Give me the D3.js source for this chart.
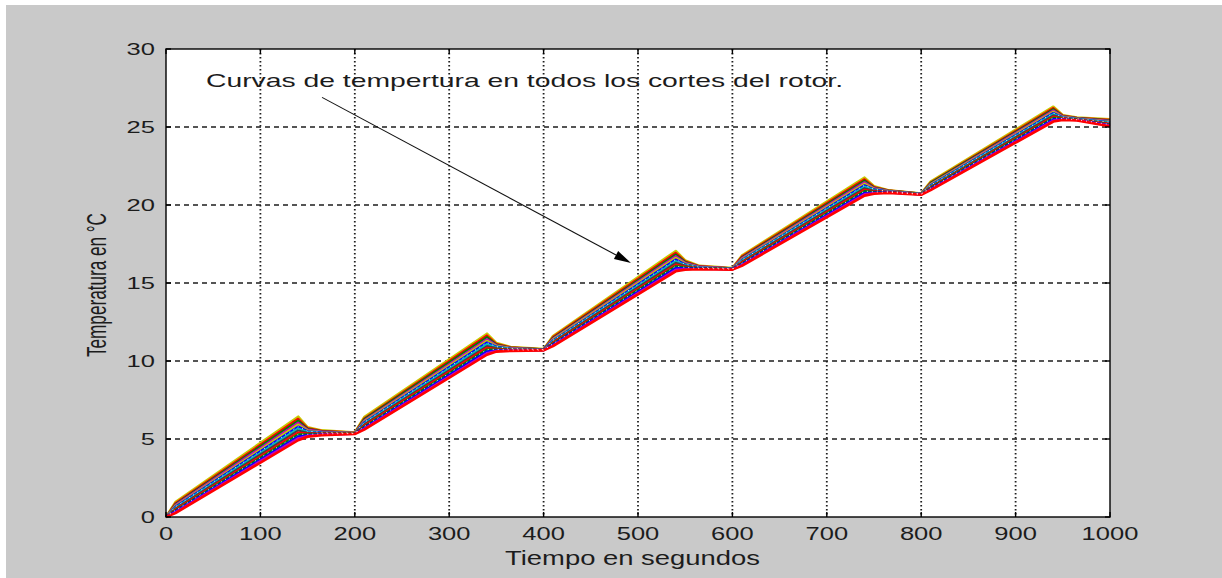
<!DOCTYPE html>
<html>
<head>
<meta charset="utf-8">
<script src="https://cdn.jsdelivr.net/npm/d3@7"></script>
<style>
  html, body { margin: 0; padding: 0; background: #ffffff; }
  svg { display: block; }
  text { font-family: "Liberation Sans", Arial, sans-serif; fill: #1c1c1c; }
</style>
</head>
<body>
<svg id="fig" width="1222" height="578"></svg>
<script>
// Sample times (s) shared by every rotor-section curve
const tiempos = [0, 10, 140, 150, 165, 200, 210, 340, 350, 365, 400, 410, 540, 550, 565,
                 600, 610, 740, 750, 765, 800, 810, 940, 950, 965, 1000];

// Temperature (°C) of each rotor section at the sample times
const corte01 = [0, 0.95, 6.43, 5.75, 5.55, 5.42, 6.40, 11.75, 11.15, 10.90, 10.76, 11.60, 17.05, 16.45, 16.10, 15.96, 16.75, 21.75, 21.20, 20.95, 20.74, 21.50, 26.30, 25.75, 25.60, 25.50];
const corte02 = [0, 0.89, 6.30, 5.70, 5.53, 5.41, 6.33, 11.64, 11.10, 10.88, 10.75, 11.55, 16.94, 16.40, 16.08, 15.95, 16.70, 21.65, 21.16, 20.94, 20.73, 21.45, 26.22, 25.73, 25.59, 25.46];
const corte03 = [0, 0.83, 6.18, 5.65, 5.50, 5.40, 6.27, 11.53, 11.06, 10.86, 10.75, 11.49, 16.83, 16.35, 16.06, 15.94, 16.64, 21.56, 21.12, 20.92, 20.73, 21.41, 26.14, 25.70, 25.57, 25.43];
const corte04 = [0, 0.78, 6.05, 5.60, 5.48, 5.40, 6.20, 11.41, 11.01, 10.84, 10.74, 11.44, 16.73, 16.30, 16.05, 15.94, 16.59, 21.46, 21.08, 20.91, 20.72, 21.36, 26.06, 25.68, 25.56, 25.39];
const corte05 = [0, 0.72, 5.93, 5.55, 5.45, 5.39, 6.13, 11.30, 10.97, 10.82, 10.73, 11.38, 16.62, 16.25, 16.03, 15.93, 16.53, 21.37, 21.04, 20.89, 20.71, 21.32, 25.98, 25.65, 25.54, 25.35];
const corte06 = [0, 0.66, 5.80, 5.50, 5.43, 5.38, 6.07, 11.19, 10.92, 10.80, 10.73, 11.33, 16.51, 16.20, 16.01, 15.92, 16.48, 21.27, 21.00, 20.88, 20.71, 21.27, 25.90, 25.63, 25.53, 25.31];
const corte07 = [0, 0.60, 5.68, 5.45, 5.40, 5.37, 6.00, 11.08, 10.88, 10.78, 10.72, 11.28, 16.40, 16.15, 15.99, 15.91, 16.43, 21.18, 20.96, 20.87, 20.70, 21.23, 25.83, 25.60, 25.51, 25.28];
const corte08 = [0, 0.54, 5.55, 5.40, 5.38, 5.36, 5.93, 10.96, 10.83, 10.75, 10.71, 11.22, 16.29, 16.10, 15.97, 15.90, 16.37, 21.08, 20.92, 20.85, 20.69, 21.18, 25.75, 25.58, 25.50, 25.24];
const corte09 = [0, 0.48, 5.42, 5.35, 5.35, 5.35, 5.87, 10.85, 10.78, 10.73, 10.71, 11.17, 16.18, 16.05, 15.95, 15.89, 16.32, 20.98, 20.88, 20.84, 20.69, 21.13, 25.67, 25.55, 25.48, 25.20];
const corte10 = [0, 0.43, 5.30, 5.30, 5.33, 5.35, 5.80, 10.74, 10.74, 10.71, 10.70, 11.11, 16.08, 16.00, 15.94, 15.89, 16.26, 20.89, 20.84, 20.82, 20.68, 21.09, 25.59, 25.53, 25.47, 25.16];
const corte11 = [0, 0.37, 5.17, 5.25, 5.30, 5.34, 5.73, 10.63, 10.69, 10.69, 10.69, 11.06, 15.97, 15.95, 15.92, 15.88, 16.21, 20.79, 20.80, 20.81, 20.67, 21.04, 25.51, 25.50, 25.45, 25.13];
const corte12 = [0, 0.31, 5.05, 5.20, 5.28, 5.33, 5.67, 10.51, 10.65, 10.67, 10.69, 11.00, 15.86, 15.90, 15.90, 15.87, 16.15, 20.70, 20.76, 20.79, 20.67, 21.00, 25.43, 25.48, 25.44, 25.09];
const corte13 = [0, 0.25, 4.92, 5.15, 5.25, 5.32, 5.60, 10.40, 10.60, 10.65, 10.68, 10.95, 15.75, 15.85, 15.88, 15.86, 16.10, 20.60, 20.72, 20.78, 20.66, 20.95, 25.35, 25.45, 25.42, 25.05];

const cortes = [corte01, corte02, corte03, corte04, corte05, corte06, corte07,
                corte08, corte09, corte10, corte11, corte12, corte13];

// Line colours (classic plot colour order)
const coloresCorte = ["#c8c800", "#ff0000", "#008000", "#bf00bf", "#c8c800", "#0000ff", "#00bfbf",
                      "#404040", "#ff0000", "#008000", "#0000ff", "#bf00bf", "#ff0000"];

// Axis ticks
const xTicks = [0, 100, 200, 300, 400, 500, 600, 700, 800, 900, 1000];
const yTicks = [0, 5, 10, 15, 20, 25, 30];
const xTickLabels = ["0", "100", "200", "300", "400", "500", "600", "700", "800", "900", "1000"];
const yTickLabels = ["0", "5", "10", "15", "20", "25", "30"];

// Annotation text and arrow (data units)
const notaTexto = "Curvas de tempertura en todos los cortes del rotor.";
const notaPos = [42.4, 27.55];
const flechaDesde = [165.3, 26.9];
const flechaHasta = [492.6, 16.28];

const svg = d3.select("#fig");
const W = 1222, H = 578;
const ejeIzq = 166, ejeDer = 1110, ejeSup = 49, ejeInf = 517;

const x = d3.scaleLinear().domain([0, 1000]).range([ejeIzq, ejeDer]);
const y = d3.scaleLinear().domain([0, 30]).range([ejeInf, ejeSup]);

// figure background
svg.append("rect").attr("x", 0).attr("y", 0).attr("width", W).attr("height", H).attr("fill", "#ffffff");
svg.append("rect").attr("x", 6).attr("y", 5).attr("width", W - 6).attr("height", H - 5).attr("fill", "#c9c9c9");

// axes area
svg.append("rect").attr("x", ejeIzq).attr("y", ejeSup).attr("width", ejeDer - ejeIzq).attr("height", ejeInf - ejeSup)
  .attr("fill", "#ffffff");

// grid
const grid = svg.append("g");
grid.selectAll("line.gx").data(xTicks.filter(t => t > 0 && t < 1000)).join("line")
  .attr("class", "gx")
  .attr("x1", d => x(d)).attr("x2", d => x(d)).attr("y1", ejeSup).attr("y2", ejeInf)
  .attr("stroke", "#1e1e1e").attr("stroke-width", 1.8).attr("stroke-dasharray", "1.6,2.4");
grid.selectAll("line.gy").data(yTicks.filter(t => t > 0 && t < 30)).join("line")
  .attr("class", "gy")
  .attr("x1", ejeIzq).attr("x2", ejeDer).attr("y1", d => y(d)).attr("y2", d => y(d))
  .attr("stroke", "#1e1e1e").attr("stroke-width", 1.6).attr("stroke-dasharray", "5,4");

// annotation text
svg.append("text")
  .attr("x", x(notaPos[0])).attr("y", y(notaPos[1]))
  .attr("font-size", 18.5)
  .attr("textLength", 637).attr("lengthAdjust", "spacingAndGlyphs")
  .text(notaTexto);

// curves
const linea = d3.line().x((d, i) => x(tiempos[i])).y(d => y(d));
const curvas = svg.append("g").attr("fill", "none");
cortes.forEach((serie, k) => {
  curvas.append("path")
    .attr("d", linea(serie))
    .attr("stroke", coloresCorte[k])
    .attr("stroke-width", k === 0 || k === cortes.length - 1 ? 2.6 : 2.1)
    .attr("stroke-linejoin", "round");
});
// dotted lines inside the band
[corte06, corte10].forEach(serie => {
  curvas.append("path")
    .attr("d", linea(serie))
    .attr("stroke", "#ffffff").attr("stroke-width", 0.9).attr("stroke-dasharray", "1,4");
});

// arrow
const ax1 = x(flechaDesde[0]), ay1 = y(flechaDesde[1]);
const ax2 = x(flechaHasta[0]), ay2 = y(flechaHasta[1]);
const ang = Math.atan2(ay2 - ay1, ax2 - ax1);
const headL = 17, headW = 4.5;
const bx = ax2 - headL * Math.cos(ang), by = ay2 - headL * Math.sin(ang);
svg.append("line").attr("x1", ax1).attr("y1", ay1).attr("x2", bx).attr("y2", by)
  .attr("stroke", "#111").attr("stroke-width", 1.1);
svg.append("path")
  .attr("d", `M${ax2},${ay2} L${bx - headW * Math.sin(ang)},${by + headW * Math.cos(ang)} L${bx + headW * Math.sin(ang)},${by - headW * Math.cos(ang)} Z`)
  .attr("fill", "#000");

// axes frame and inward ticks
const marco = svg.append("g").attr("stroke", "#000").attr("stroke-width", 1.4);
marco.append("rect").attr("x", ejeIzq).attr("y", ejeSup).attr("width", ejeDer - ejeIzq).attr("height", ejeInf - ejeSup)
  .attr("fill", "none");
const tk = 5;
xTicks.forEach(t => {
  marco.append("line").attr("x1", x(t)).attr("x2", x(t)).attr("y1", ejeInf).attr("y2", ejeInf - tk);
  marco.append("line").attr("x1", x(t)).attr("x2", x(t)).attr("y1", ejeSup).attr("y2", ejeSup + tk);
});
yTicks.forEach(t => {
  marco.append("line").attr("x1", ejeIzq).attr("x2", ejeIzq + tk).attr("y1", y(t)).attr("y2", y(t));
  marco.append("line").attr("x1", ejeDer).attr("x2", ejeDer - tk).attr("y1", y(t)).attr("y2", y(t));
});

// tick labels (wide glyphs)
const digitW = 14.2;
svg.append("g").selectAll("text").data(xTicks).join("text")
  .attr("x", (d, i) => x(d) - xTickLabels[i].length * digitW / 2)
  .attr("y", 540)
  .attr("font-size", 18.5)
  .attr("textLength", (d, i) => xTickLabels[i].length * digitW)
  .attr("lengthAdjust", "spacingAndGlyphs")
  .text((d, i) => xTickLabels[i]);

svg.append("g").selectAll("text").data(yTicks).join("text")
  .attr("x", (d, i) => 155 - yTickLabels[i].length * digitW)
  .attr("y", d => y(d) + 6)
  .attr("font-size", 16.8)
  .attr("textLength", (d, i) => yTickLabels[i].length * digitW)
  .attr("lengthAdjust", "spacingAndGlyphs")
  .text((d, i) => yTickLabels[i]);

// axis titles
svg.append("text")
  .attr("x", 505).attr("y", 565)
  .attr("font-size", 19.5)
  .attr("textLength", 255).attr("lengthAdjust", "spacingAndGlyphs")
  .text("Tiempo en segundos");

svg.append("text")
  .attr("transform", "translate(106,357) scale(1.43,1) rotate(-90)")
  .attr("x", 0).attr("y", 0)
  .attr("font-size", 19.5)
  .attr("textLength", 144).attr("lengthAdjust", "spacingAndGlyphs")
  .text("Temperatura en °C");
</script>
</body>
</html>
